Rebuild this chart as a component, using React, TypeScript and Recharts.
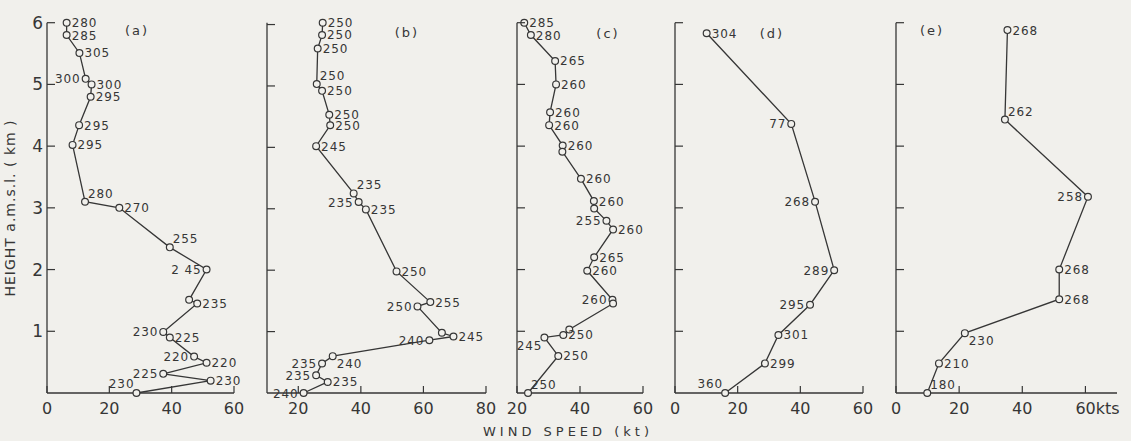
import React from 'react';
import { ScatterChart, Scatter, XAxis, YAxis } from 'recharts';

const INK = '#363636';
const PAPER = '#f1f0ec';
const FONT = 'DejaVu Sans, sans-serif';

// (a) heights in km, wind speed in kt, direction labels (top -> ground)
const heightA = [6.0, 5.8, 5.51, 5.09, 5.0, 4.8, 4.34, 4.02, 3.1, 3.0, 2.36, 2.0, 1.51, 1.45, 0.99, 0.9, 0.59, 0.49, 0.31, 0.2, 0];
const speedA = [6.3, 6.3, 10.4, 12.4, 14.3, 14.0, 10.3, 8.2, 12.2, 23.2, 39.4, 51.2, 45.6, 48.2, 37.3, 39.4, 47.2, 51.2, 37.3, 52.5, 28.7];
const dirA = ['280', '285', '305', '300', '300', '295', '295', '295', '280', '270', '255', '2 45', '', '235', '230', '225', '220', '220', '225', '230', '230'];
const sideA: Record<number, string> = { 3: 'l', 8: 'ur', 10: 'ur', 11: 'l', 14: 'l', 16: 'l', 18: 'l', 20: 'ul' };

// (b)
const heightB = [6.03, 5.83, 5.61, 5.03, 4.92, 4.53, 4.36, 4.02, 3.25, 3.11, 2.99, 1.98, 1.48, 1.41, 0.98, 0.92, 0.86, 0.6, 0.48, 0.29, 0.18, 0];
const speedB = [27.8, 27.6, 26.2, 25.9, 27.6, 29.9, 30.2, 25.7, 37.7, 39.3, 41.6, 51.4, 62.2, 58.1, 65.9, 69.6, 61.9, 31.0, 27.6, 25.7, 29.4, 21.7];
const dirB = ['250', '250', '250', '250', '250', '250', '250', '245', '235', '235', '235', '250', '255', '250', '', '245', '240', '240', '235', '235', '235', '240'];
const sideB: Record<number, string> = { 3: 'ur', 8: 'ur', 9: 'l', 13: 'l', 16: 'l', 17: 'br', 18: 'l', 19: 'l', 21: 'l' };

// (c)
const heightC = [6.0, 5.8, 5.38, 5.0, 4.55, 4.34, 4.01, 3.91, 3.47, 3.11, 2.99, 2.79, 2.65, 2.2, 1.98, 1.51, 1.45, 1.03, 0.94, 0.9, 0.6, 0];
const speedC = [22.3, 24.4, 32.1, 32.4, 30.5, 30.2, 34.5, 34.4, 40.3, 44.4, 44.5, 48.4, 50.5, 44.5, 42.3, 50.3, 50.5, 36.6, 34.7, 28.7, 33.1, 23.5];
const dirC = ['285', '280', '265', '260', '260', '260', '260', '', '260', '260', '', '255', '260', '265', '260', '260', '', '', '250', '245', '250', '250'];
const sideC: Record<number, string> = { 11: 'l', 15: 'l', 19: 'bl', 21: 'ur' };

// (d)
const heightD = [5.83, 4.36, 3.1, 1.99, 1.43, 0.94, 0.48, 0];
const speedD = [10.1, 37.1, 44.7, 50.8, 43.1, 33.0, 28.7, 16.0];
const dirD = ['304', '77', '268', '289', '295', '301', '299', '360'];
const sideD: Record<number, string> = { 1: 'l', 2: 'l', 3: 'l', 4: 'l', 7: 'ul' };

// (e)
const heightE = [5.88, 4.43, 3.18, 2.0, 1.52, 0.97, 0.48, 0];
const speedE = [35.3, 34.5, 60.8, 51.7, 51.7, 21.8, 13.6, 9.9];
const dirE = ['268', '262', '258', '268', '268', '230', '210', '180'];
const sideE: Record<number, string> = { 1: 'ur', 2: 'l', 5: 'br', 7: 'ur' };

const heightTicks = [0, 1, 2, 3, 4, 5, 6];

const rows = (h: number[], s: number[], d: string[], side: Record<number, string>) =>
  h.map((v, i) => ({ h: v, speed: s[i], dir: d[i], side: side[i] || 'r' }));

const panels = [
  { id: 'a', left: 47, right: 234, domain: [0, 60], ticks: [0, 20, 40, 60], data: rows(heightA, speedA, dirA, sideA), yLabels: true },
  { id: 'b', left: 267, right: 486, domain: [10, 80], ticks: [20, 40, 60, 80], data: rows(heightB, speedB, dirB, sideB) },
  { id: 'c', left: 517, right: 643, domain: [20, 60], ticks: [20, 40, 60], data: rows(heightC, speedC, dirC, sideC) },
  { id: 'd', left: 675, right: 863, domain: [0, 60], ticks: [0, 20, 40, 60], data: rows(heightD, speedD, dirD, sideD) },
  { id: 'e', left: 896, right: 1117, domain: [0, 70], ticks: [0, 20, 40, 60], data: rows(heightE, speedE, dirE, sideE), unit: 'kts' },
];

const panelTags = [
  { t: '(a)', x: 137, y: 35 },
  { t: '(b)', x: 407, y: 37 },
  { t: '(c)', x: 608, y: 38 },
  { t: '(d)', x: 772, y: 38 },
  { t: '(e)', x: 932, y: 35 },
];

const Point = (props: any) => {
  const { cx, cy, payload } = props;
  if (cx == null || cy == null) return null;
  const side = payload.side;
  let tx = cx + 5;
  let ty = cy + 4.5;
  let anchor: 'start' | 'end' | 'middle' = 'start';
  if (side === 'l') { tx = cx - 5; anchor = 'end'; }
  if (side === 'ur') { tx = cx + 3; ty = cy - 4; }
  if (side === 'ul') { tx = cx - 2; ty = cy - 5; anchor = 'end'; }
  if (side === 'br') { tx = cx + 4; ty = cy + 12; }
  if (side === 'bl') { tx = cx - 2; ty = cy + 13; anchor = 'end'; }
  return (
    <g>
      <circle cx={cx} cy={cy} r={3.4} fill={PAPER} stroke={INK} strokeWidth={1.2} />
      {payload.dir && (
        <text x={tx} y={ty} textAnchor={anchor} fontSize={12} letterSpacing={0.9} fill={INK} fontFamily={FONT}>
          {payload.dir}
        </text>
      )}
    </g>
  );
};

const XTick = (props: any) => {
  const { x, y, payload, unit, last } = props;
  const withUnit = unit && payload.value === last;
  return (
    <g>
      <line x1={x} x2={x} y1={y} y2={y - 7} stroke={INK} strokeWidth={1.2} />
      <text x={withUnit ? x - 10 : x} y={y + 21} textAnchor={withUnit ? 'start' : 'middle'}
        fontSize={16} fill={INK} fontFamily={FONT}>
        {String(payload.value) + (withUnit ? unit : '')}
      </text>
    </g>
  );
};

const YTick = (props: any) => {
  const { x, y, payload, showLabel } = props;
  return (
    <g>
      {payload.value > 0 && <line x1={x} x2={x + 8} y1={y} y2={y} stroke={INK} strokeWidth={1.2} />}
      {showLabel && payload.value > 0 && (
        <text x={x - 4} y={y + 6} textAnchor="end" fontSize={17} fill={INK} fontFamily={FONT}>
          {payload.value}
        </text>
      )}
    </g>
  );
};

function Panel({ p }: { p: any }) {
  const width = p.right - p.left + 45 + 45;
  const last = p.ticks[p.ticks.length - 1];
  return (
    <div style={{ position: 'absolute', left: p.left - 45, top: 0 }}>
      <ScatterChart width={width} height={441} margin={{ top: 22.7, right: 45, bottom: 18, left: 15 }}>
        <XAxis
          type="number"
          dataKey="speed"
          domain={p.domain}
          ticks={p.ticks}
          interval={0}
          height={30}
          tickSize={0}
          tickMargin={0}
          axisLine={{ stroke: INK, strokeWidth: 1.3 }}
          tickLine={false}
          tick={<XTick unit={p.unit} last={last} />}
        />
        <YAxis
          type="number"
          dataKey="h"
          domain={[0, 6]}
          ticks={heightTicks}
          interval={0}
          width={30}
          tickSize={0}
          tickMargin={0}
          axisLine={{ stroke: INK, strokeWidth: 1.3 }}
          tickLine={false}
          tick={<YTick showLabel={!!p.yLabels} />}
        />
        <Scatter
          data={p.data}
          line={{ stroke: INK, strokeWidth: 1.3 }}
          lineType="joint"
          shape={<Point />}
          isAnimationActive={false}
        />
      </ScatterChart>
    </div>
  );
}

export default function App() {
  return (
    <div style={{ position: 'absolute', left: 0, top: 0, width: 1131, height: 441, background: PAPER, overflow: 'hidden' }}>
      {panels.map((p) => (
        <Panel key={p.id} p={p} />
      ))}
      <svg width={1131} height={441} style={{ position: 'absolute', left: 0, top: 0, pointerEvents: 'none' }}>
        {panelTags.map((t) => (
          <text key={t.t} x={t.x} y={t.y} textAnchor="middle" fontSize={13} letterSpacing={2} fill={INK} fontFamily={FONT}>
            {t.t}
          </text>
        ))}
        <text x={15} y={208} transform="rotate(-90 15 208)" textAnchor="middle" fontSize={14} letterSpacing={1} fill={INK} fontFamily={FONT}>
          HEIGHT a.m.s.l. ( km )
        </text>
        <text x={568} y={436} textAnchor="middle" fontSize={13} letterSpacing={4} fill={INK} fontFamily={FONT}>
          WIND SPEED (kt)
        </text>
      </svg>
    </div>
  );
}
